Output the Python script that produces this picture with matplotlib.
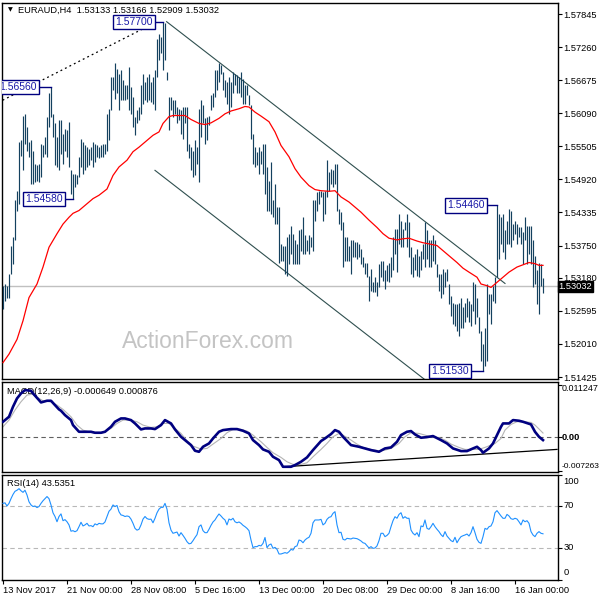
import numpy as np
import matplotlib.pyplot as plt

plt.rcParams['font.family'] = ['Liberation Sans', 'DejaVu Sans']

# ---- EURAUD H4 bars (high / low), bar 0 = 13 Nov 2017 16:00
high = [
    1.5304, 1.5307, 1.5304, 1.5325, 1.5375, 1.5390, 1.5455, 1.5472, 1.5558, 1.5561,
    1.5605, 1.5608, 1.5585, 1.5558, 1.5561, 1.5543, 1.5520, 1.5517, 1.5520, 1.5555,
    1.5552, 1.5567, 1.5603, 1.5644, 1.5656, 1.5608, 1.5591, 1.5567, 1.5597, 1.5597,
    1.5573, 1.5582, 1.5579, 1.5594, 1.5508, 1.5502, 1.5502, 1.5499, 1.5532, 1.5564,
    1.5558, 1.5552, 1.5549, 1.5546, 1.5549, 1.5558, 1.5555, 1.5552, 1.5549, 1.5552,
    1.5555, 1.5555, 1.5608, 1.5617, 1.5673, 1.5673, 1.5697, 1.5688, 1.5679, 1.5685,
    1.5668, 1.5659, 1.5659, 1.5691, 1.5656, 1.5638, 1.5603, 1.5614, 1.5620, 1.5659,
    1.5679, 1.5665, 1.5673, 1.5679, 1.5665, 1.5673, 1.5685, 1.5741, 1.5750, 1.5744,
    1.5770, 1.5768, 1.5682, 1.5638, 1.5638, 1.5632, 1.5632, 1.5620, 1.5617, 1.5614,
    1.5620, 1.5620, 1.5620, 1.5555, 1.5549, 1.5543, 1.5561, 1.5549, 1.5617, 1.5632,
    1.5623, 1.5600, 1.5603, 1.5605, 1.5641, 1.5644, 1.5685, 1.5685, 1.5697, 1.5694,
    1.5682, 1.5668, 1.5665, 1.5673, 1.5665, 1.5682, 1.5679, 1.5676, 1.5673, 1.5682,
    1.5670, 1.5659, 1.5659, 1.5641, 1.5623, 1.5573, 1.5549, 1.5540, 1.5549, 1.5543,
    1.5555, 1.5555, 1.5514, 1.5490, 1.5523, 1.5455, 1.5484, 1.5443, 1.5443, 1.5378,
    1.5375, 1.5375, 1.5390, 1.5396, 1.5410, 1.5396, 1.5384, 1.5378, 1.5402, 1.5404,
    1.5425, 1.5393, 1.5384, 1.5393, 1.5390, 1.5455, 1.5455, 1.5469, 1.5472, 1.5472,
    1.5469, 1.5472, 1.5527, 1.5505, 1.5511, 1.5508, 1.5520, 1.5520, 1.5440, 1.5434,
    1.5416, 1.5390, 1.5390, 1.5375, 1.5384, 1.5384, 1.5381, 1.5381, 1.5378, 1.5369,
    1.5354, 1.5345, 1.5345, 1.5322, 1.5334, 1.5310, 1.5319, 1.5310, 1.5343, 1.5348,
    1.5348, 1.5331, 1.5340, 1.5345, 1.5354, 1.5390, 1.5404, 1.5404, 1.5431, 1.5419,
    1.5404, 1.5416, 1.5431, 1.5416, 1.5372, 1.5354, 1.5360, 1.5369, 1.5357, 1.5366,
    1.5378, 1.5416, 1.5402, 1.5384, 1.5384, 1.5393, 1.5384, 1.5343, 1.5325, 1.5325,
    1.5334, 1.5328, 1.5334, 1.5307, 1.5286, 1.5274, 1.5272, 1.5272, 1.5274, 1.5283,
    1.5266, 1.5274, 1.5283, 1.5277, 1.5272, 1.5310, 1.5307, 1.5283, 1.5248, 1.5224,
    1.5201, 1.5230, 1.5307, 1.5289, 1.5289, 1.5304, 1.5319, 1.5446, 1.5431, 1.5425,
    1.5431, 1.5402, 1.5419, 1.5440, 1.5437, 1.5413, 1.5419, 1.5413, 1.5407, 1.5407,
    1.5399, 1.5425, 1.5410, 1.5410, 1.5410, 1.5384, 1.5357, 1.5331, 1.5345, 1.5343,
    1.5317,
]
low = [
    1.5263, 1.5277, 1.5283, 1.5283, 1.5325, 1.5343, 1.5384, 1.5437, 1.5449, 1.5534,
    1.5508, 1.5555, 1.5543, 1.5532, 1.5484, 1.5484, 1.5487, 1.5490, 1.5487, 1.5496,
    1.5532, 1.5537, 1.5532, 1.5585, 1.5603, 1.5567, 1.5517, 1.5514, 1.5508, 1.5537,
    1.5520, 1.5543, 1.5532, 1.5514, 1.5466, 1.5458, 1.5478, 1.5484, 1.5496, 1.5514,
    1.5502, 1.5508, 1.5514, 1.5517, 1.5526, 1.5514, 1.5523, 1.5532, 1.5529, 1.5532,
    1.5532, 1.5537, 1.5543, 1.5561, 1.5614, 1.5650, 1.5635, 1.5644, 1.5614, 1.5632,
    1.5632, 1.5632, 1.5635, 1.5614, 1.5608, 1.5585, 1.5570, 1.5591, 1.5597, 1.5608,
    1.5626, 1.5632, 1.5629, 1.5632, 1.5629, 1.5626, 1.5614, 1.5673, 1.5703, 1.5715,
    1.5685, 1.5703, 1.5668, 1.5579, 1.5614, 1.5603, 1.5608, 1.5591, 1.5597, 1.5573,
    1.5564, 1.5591, 1.5543, 1.5529, 1.5508, 1.5496, 1.5499, 1.5520, 1.5487, 1.5567,
    1.5591, 1.5555, 1.5561, 1.5588, 1.5614, 1.5620, 1.5638, 1.5650, 1.5665, 1.5679,
    1.5650, 1.5638, 1.5626, 1.5608, 1.5620, 1.5644, 1.5659, 1.5644, 1.5644, 1.5638,
    1.5626, 1.5626, 1.5641, 1.5623, 1.5564, 1.5520, 1.5514, 1.5517, 1.5502, 1.5520,
    1.5502, 1.5466, 1.5437, 1.5437, 1.5431, 1.5425, 1.5413, 1.5413, 1.5345, 1.5348,
    1.5348, 1.5325, 1.5322, 1.5343, 1.5360, 1.5343, 1.5343, 1.5343, 1.5343, 1.5366,
    1.5360, 1.5360, 1.5366, 1.5360, 1.5372, 1.5366, 1.5419, 1.5437, 1.5449, 1.5461,
    1.5419, 1.5431, 1.5461, 1.5472, 1.5484, 1.5478, 1.5484, 1.5437, 1.5413, 1.5402,
    1.5337, 1.5348, 1.5348, 1.5348, 1.5325, 1.5354, 1.5354, 1.5351, 1.5354, 1.5343,
    1.5337, 1.5325, 1.5319, 1.5277, 1.5295, 1.5292, 1.5292, 1.5286, 1.5301, 1.5319,
    1.5313, 1.5298, 1.5313, 1.5310, 1.5319, 1.5331, 1.5360, 1.5328, 1.5378, 1.5372,
    1.5372, 1.5402, 1.5372, 1.5354, 1.5325, 1.5319, 1.5331, 1.5322, 1.5319, 1.5331,
    1.5351, 1.5337, 1.5351, 1.5337, 1.5337, 1.5348, 1.5343, 1.5319, 1.5295, 1.5283,
    1.5289, 1.5301, 1.5313, 1.5272, 1.5251, 1.5236, 1.5233, 1.5224, 1.5215, 1.5230,
    1.5230, 1.5239, 1.5248, 1.5239, 1.5233, 1.5260, 1.5236, 1.5248, 1.5221, 1.5171,
    1.5153, 1.5162, 1.5171, 1.5254, 1.5236, 1.5277, 1.5274, 1.5319, 1.5351, 1.5378,
    1.5363, 1.5351, 1.5378, 1.5378, 1.5372, 1.5384, 1.5396, 1.5378, 1.5390, 1.5378,
    1.5343, 1.5384, 1.5343, 1.5360, 1.5343, 1.5301, 1.5307, 1.5272, 1.5254, 1.5304,
    1.5291,
]

# red moving average
ma_bar = [0, 3, 7, 10, 13, 17, 20, 23, 27, 30, 33, 35, 38, 42, 45, 48, 52, 55, 58, 62,
          65, 68, 72, 75, 78, 80, 83, 85, 88, 91, 94, 98, 101, 104, 108, 111, 114, 118, 121, 123,
          126, 129, 133, 136, 139, 143, 146, 149, 153, 156, 159, 163, 166, 169, 173, 176, 179, 183, 187, 190,
          193, 197, 200, 203, 207, 210, 213, 217, 220, 223, 227, 230, 233, 237, 239, 242, 244, 247, 250, 253,
          257, 260, 263, 266, 268, 270]
ma_val = [1.5168, 1.5183, 1.5209, 1.5242, 1.5283, 1.5307, 1.5337, 1.5372, 1.5396, 1.5413,
          1.5425, 1.5432, 1.5437, 1.5449, 1.5458, 1.5464, 1.5475, 1.5499, 1.5514, 1.5526,
          1.5541, 1.5549, 1.5561, 1.5570, 1.5576, 1.5591, 1.5603, 1.5605, 1.5605, 1.5605,
          1.5598, 1.5591, 1.5589, 1.5592, 1.5600, 1.5608, 1.5613, 1.5617, 1.5621, 1.5620,
          1.5611, 1.5604, 1.5594, 1.5576, 1.5552, 1.5532, 1.5511, 1.5496, 1.5481, 1.5474,
          1.5472, 1.5471, 1.5472, 1.5461, 1.5452, 1.5443, 1.5434, 1.5420, 1.5407, 1.5396,
          1.5388, 1.5385, 1.5387, 1.5388, 1.5383, 1.5380, 1.5378, 1.5375, 1.5366, 1.5357,
          1.5345, 1.5335, 1.5328, 1.5319, 1.5307, 1.5304, 1.5301, 1.5310, 1.5319, 1.5328,
          1.5337, 1.5341, 1.5345, 1.5343, 1.5340, 1.5340]

# MACD(12,26,9) main and signal
macd_bar = [0, 3, 5, 7, 9, 11, 14, 15, 18, 19, 22, 24, 26, 28, 29, 31, 34, 35, 38, 40,
            44, 46, 49, 51, 54, 56, 59, 61, 64, 66, 69, 71, 74, 76, 79, 81, 84, 86, 89, 91,
            94, 96, 98, 100, 103, 105, 108, 110, 114, 117, 120, 123, 125, 128, 130, 133, 135, 138, 140, 144,
            146, 149, 152, 155, 159, 161, 164, 166, 168, 170, 174, 178, 181, 184, 188, 191, 194, 197, 199, 202,
            204, 206, 209, 212, 215, 219, 222, 225, 229, 232, 235, 237, 239, 240, 243, 245, 247, 249, 250, 253,
            255, 258, 260, 264, 266, 268, 270]
macd_main = [0.00331, 0.00439, 0.00655, 0.00835, 0.00943, 0.01015, 0.01001, 0.00943, 0.00799, 0.00749,
             0.00785, 0.00785, 0.00691, 0.00598, 0.00569, 0.00475, 0.00367, 0.00259, 0.00115, 0.00115,
             0.00115, 0.00094, 0.00094, 0.00115, 0.00223, 0.00331, 0.00403, 0.00403, 0.00367, 0.00295,
             0.00166, 0.00187, 0.00187, 0.00173, 0.00259, 0.00367, 0.00295, 0.00166, 0.00007, -0.00065,
             -0.00173, -0.00295, -0.00317, -0.00209, -0.00137, -0.00029, 0.00115, 0.00151, 0.00173, 0.00173,
             0.00137, 0.00079, -0.00065, -0.00173, -0.00266, -0.00317, -0.00425, -0.00497, -0.00641, -0.00641,
             -0.00605, -0.00533, -0.00439, -0.00281, -0.00086, -0.00029, 0.00065, 0.00151, 0.00115, 0.00007,
             -0.00173, -0.00209, -0.00245, -0.00281, -0.00317, -0.00245, -0.00223, -0.00101, 0.00043, 0.00115,
             0.00130, 0.00058, -0.00014, 0.0, 0.00022, -0.00065, -0.00137, -0.00245, -0.00302, -0.00302,
             -0.00245, -0.00209, -0.00281, -0.00338, -0.00245, -0.00137, 0.00043, 0.00223, 0.00295, 0.00295,
             0.00367, 0.00353, 0.00331, 0.00274, 0.00115, 0.00007, -0.000649]
sig_bar = [0, 3, 6, 9, 12, 15, 18, 20, 24, 27, 30, 34, 37, 40, 44, 47, 50, 54, 57, 60,
           64, 67, 70, 74, 77, 80, 83, 85, 89, 92, 95, 99, 102, 105, 109, 112, 115, 119, 122, 125,
           129, 132, 135, 139, 142, 145, 149, 152, 155, 159, 162, 165, 168, 170, 174, 177, 180, 184, 188, 191,
           194, 198, 201, 204, 208, 211, 214, 218, 221, 224, 228, 231, 234, 238, 241, 244, 246, 249, 251, 254,
           257, 260, 264, 266, 268, 270]
macd_signal = [0.00223, 0.00367, 0.00583, 0.00763, 0.00907, 0.00929, 0.00835, 0.00785, 0.00763, 0.00691,
               0.00598, 0.00439, 0.00259, 0.00151, 0.00101, 0.00079, 0.00094, 0.00187, 0.00295, 0.00367,
               0.00367, 0.00331, 0.00259, 0.00209, 0.00223, 0.00295, 0.00295, 0.00223, 0.00079, -0.00079,
               -0.00194, -0.00259, -0.00245, -0.00151, -0.00029, 0.00094, 0.00166, 0.00166, 0.00130, 0.00043,
               -0.00101, -0.00223, -0.00338, -0.00439, -0.00533, -0.00590, -0.00590, -0.00554, -0.00425, -0.00266,
               -0.00137, 0.00007, 0.00079, 0.00043, -0.00065, -0.00151, -0.00223, -0.00266, -0.00295, -0.00281,
               -0.00245, -0.00137, 0.00007, 0.00094, 0.00079, 0.00043, 0.00007, -0.00014, -0.00065, -0.00151,
               -0.00223, -0.00266, -0.00266, -0.00266, -0.00223, -0.00173, -0.00137, -0.00029, 0.00151, 0.00274,
               0.00331, 0.00331, 0.00317, 0.00259, 0.00175, 0.000876]

# RSI(14), one value per bar
rsi = [
    72.5, 73, 70, 72.5, 77, 81, 84, 85, 86.5, 84.5,
    83, 85, 80.5, 74, 71, 69.5, 70, 68.5, 69.5, 72.5,
    75, 77, 79, 77, 71, 63.5, 60, 55, 60, 62.5,
    56, 57, 55, 52, 46, 46.5, 45.5, 46.5, 50.3, 54.5,
    51, 52, 53.5, 51, 51.3, 50.3, 53, 52, 53.5, 53,
    53, 54.8, 60, 65, 67, 71, 69.5, 70.5, 64.5, 61.5,
    61, 60, 60.5, 60, 57.5, 53.5, 48.7, 47, 47.8, 52,
    57.5, 60, 58, 57.3, 57.5, 54, 58.3, 63.5, 67, 68.7,
    68.7, 72.5, 67, 54, 47, 44, 44.6, 45.2, 41.4, 44.6,
    42, 39.2, 36, 34, 34.4, 37, 40, 42.7, 50.3, 52,
    46.5, 44.6, 44.6, 47.8, 51.6, 54.8, 56.7, 59.8, 62.4, 60.5,
    58.3, 56.7, 52, 57.6, 56.7, 58.3, 55, 54, 54.8, 53.5,
    51.6, 50.3, 48.7, 46.5, 37.6, 30.3, 31.3, 31.3, 32.5, 32,
    34.4, 40, 30.3, 32.9, 33.8, 29.7, 30.6, 28.7, 24.3, 24.3,
    25, 25.6, 25, 26.5, 28.7, 28, 31.3, 32, 37.6, 37,
    35, 37.6, 39.2, 40.2, 44, 54, 56.7, 56.7, 56.7, 57.3,
    52, 53.5, 57.3, 59.2, 59.8, 63, 64.6, 52, 44.6, 45,
    38.3, 37.6, 39.2, 38.9, 38.6, 39.5, 39.2, 38.9, 37.9, 36.7,
    35, 34.4, 32.2, 30, 31.3, 29.7, 30, 32, 37, 44,
    44, 40.8, 42, 44, 50.3, 56, 59.8, 58.3, 62, 63.6,
    58.3, 59.8, 58.3, 58.3, 47.1, 44, 42.4, 44.6, 40.8, 51,
    50.3, 56.7, 48.7, 47.8, 50.3, 53.5, 50.3, 47.8, 45.6, 42.7,
    40.8, 45.6, 41.4, 39.2, 37, 36, 40.2, 35, 38.3, 40.8,
    41.7, 42.4, 43.3, 41.4, 44.6, 50.3, 44.6, 38.3, 35.4, 34.4,
    40.8, 48.7, 47.8, 50.3, 51, 55, 63.6, 65.6, 63, 60.5,
    58.3, 58.3, 62, 60.5, 57.9, 57.3, 58.3, 57.6, 55, 52,
    56.7, 55, 56, 53.5, 45.6, 42.4, 40.8, 44, 45.6, 44,
    43.5351,
]

price_ticks = [1.57845, 1.57260, 1.56675, 1.56090, 1.55505, 1.54920, 1.54335,
               1.53750, 1.53180, 1.52595, 1.52010, 1.51425]
date_ticks = [0, 32, 64, 96, 128, 160, 192, 224, 256]
date_labels = ['13 Nov 2017', '21 Nov 00:00', '28 Nov 08:00', '5 Dec 16:00', '13 Dec 00:00',
               '20 Dec 08:00', '29 Dec 00:00', '8 Jan 16:00', '16 Jan 00:00']
last_price = 1.53032

# swing labels: text, bar of the swing, bar where the box ends, price
swing_text = ['1.57700', '1.56560', '1.54580', '1.54460', '1.51530']
swing_bar = [80, 24, 35, 247, 240]
swing_box = [76, 18, 31, 242, 234]
swing_price = [1.5770, 1.5656, 1.5458, 1.5446, 1.5153]

# hand drawn trend lines (bar, price)
dotted_line = ([-0.2, 77], [1.5632, 1.5771])
channel_top = ([81.8, 251], [1.5771, 1.5308])
channel_bottom = ([76, 220], [1.5508, 1.5113])
macd_support = ([140, 277], [-0.00642, -0.00266])

BAR = '#14415f'
FS = 6.7

n = min(len(high), len(low))
bars = np.arange(n)
xmin, xmax = -0.5, 277.25

fig = plt.figure(figsize=(6, 6), dpi=100)


def panel(x0, y0, x1, y1):
    a = fig.add_axes([x0 / 600, 1 - y1 / 600, (x1 - x0) / 600, (y1 - y0) / 600])
    a.set_xlim(xmin, xmax)
    for s in a.spines.values():
        s.set_linewidth(1.0)
        s.set_color('black')
    a.tick_params(axis='x', bottom=False, labelbottom=False)
    a.yaxis.tick_right()
    a.tick_params(axis='y', length=3, width=0.8, labelsize=FS, pad=1.5)
    return a


ax = panel(2, 3, 557.5, 379)
axm = panel(2, 382, 557.5, 472)
axr = panel(2, 474.5, 557.5, 579.5)

# ---- price panel
ax.set_ylim(1.5139, 1.5804)
ax.set_yticks(price_ticks)
ax.set_yticklabels(['%.5f' % p for p in price_ticks])
ax.axhline(last_price, color='#c0c0c0', lw=1, zorder=1)
ax.vlines(bars, low[:n], high[:n], color=BAR, lw=0.85, zorder=3)
ax.plot(ma_bar, ma_val, color='#ff0000', lw=0.9, zorder=4)
ax.plot(*dotted_line, color='black', lw=0.9, ls=(0, (1.5, 2.5)), zorder=2)
ax.plot(*channel_top, color='#2f4f4f', lw=0.8, zorder=2)
ax.plot(*channel_bottom, color='#2f4f4f', lw=0.8, zorder=2)

for t, b, bx, p in zip(swing_text, swing_bar, swing_box, swing_price):
    ax.plot([bx, b], [p, p], color='#000080', lw=1, zorder=5)
    ax.text(bx - 1, p, t, ha='right', va='center', fontsize=7.5, color='#1a1aa8',
            zorder=6, clip_on=True,
            bbox=dict(boxstyle='square,pad=0.2', fc='white', ec='#000080', lw=1))

ax.text(1.0 + 1 / 555, last_price - 0.00004, '%.5f' % last_price, transform=ax.get_yaxis_transform(),
        ha='left', va='center', fontsize=FS, color='white', clip_on=False, zorder=10,
        bbox=dict(boxstyle='square,pad=0.1', fc='black', ec='black'))

fig.text(208 / 600, 1 - 341 / 600, 'ActionForex.com', ha='center', va='center',
         fontsize=16.5, color='#c4c4c4', zorder=0)
fig.text(10 / 600, 1 - 9.5 / 600, '\u25bc', ha='center', va='center', fontsize=4.5,
         family=['DejaVu Sans'])
fig.text(18 / 600, 1 - 10 / 600, 'EURAUD,H4  1.53133 1.53166 1.52909 1.53032',
         ha='left', va='center', fontsize=FS)

# ---- MACD panel
axm.set_ylim(-0.00754, 0.0119)
axm.set_yticks([0.011247, 0.0, -0.007263])
axm.set_yticklabels([])
axm.axhline(0, color='#606060', lw=0.8, ls=(0, (4, 3)), zorder=1)
axm.plot(sig_bar, macd_signal, color='#b4b4b4', lw=0.8, zorder=2)
axm.plot(macd_bar, macd_main, color='#000080', lw=1.9, zorder=3)
axm.plot(*macd_support, color='black', lw=0.9, zorder=2)
tm = axm.get_yaxis_transform()
axm.text(1.0 + 4 / 555, 0.01058, '0.011247', transform=tm, ha='left', va='center', fontsize=6.4)
axm.text(1.0 + 4 / 555, 0.0, '0.00', transform=tm, ha='left', va='center', fontsize=FS,
         fontweight='bold')
axm.text(1.0 + 4 / 555, -0.00626, '-0.007263', transform=tm, ha='left', va='center', fontsize=6.0)
axm.text(5 / 555, 0.9, 'MACD(12,26,9) -0.000649 0.000876', transform=axm.transAxes,
         ha='left', va='center', fontsize=FS, zorder=0)

# ---- RSI panel
axr.set_ylim(0, 100)
axr.set_yticks([100, 70, 30, 0])
axr.set_yticklabels([])
axr.axhline(70, color='#b8b8b8', lw=0.8, ls=(0, (4, 3)), zorder=1)
axr.axhline(30, color='#b8b8b8', lw=0.8, ls=(0, (4, 3)), zorder=1)
axr.plot(np.arange(len(rsi)), rsi, color='#1e90ff', lw=0.8, zorder=3)
tr = axr.get_yaxis_transform()
for v, y in zip(['100', '70', '30', '0'], [93.8, 70, 30, 7.1]):
    axr.text(1.0 + 6 / 555, y, v, transform=tr, ha='left', va='center', fontsize=FS)
axr.text(5 / 555, 91.5, 'RSI(14) 43.5351', transform=axr.get_yaxis_transform(),
         ha='left', va='center', fontsize=FS, zorder=0)

axr.tick_params(axis='x', bottom=True, labelbottom=True, length=3, width=0.8,
                labelsize=FS, pad=1.5)
axr.set_xticks(date_ticks)
axr.set_xticklabels(date_labels, ha='left')

fig.savefig('out.png', dpi=100)
